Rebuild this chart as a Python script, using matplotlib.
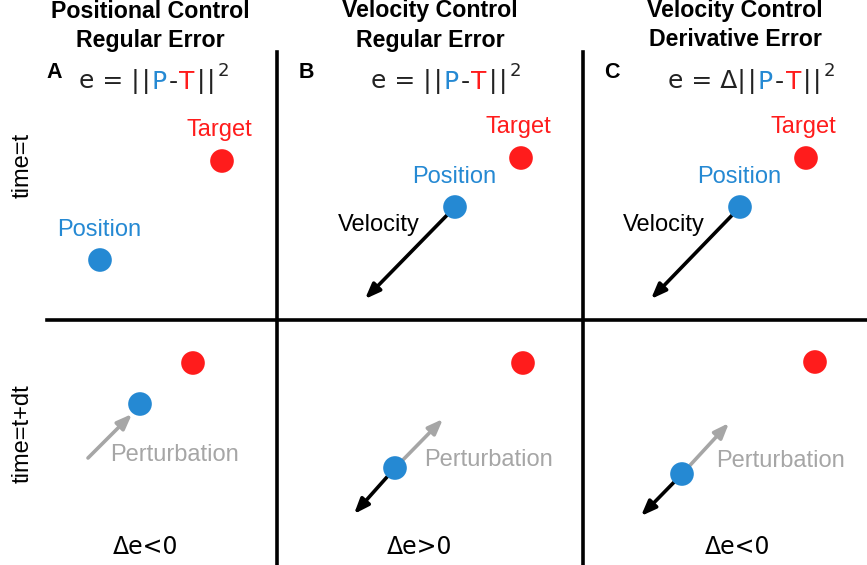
import matplotlib.pyplot as plt

# panel geometry, in pixel coordinates of the 867x565 figure
headers_1 = ["Positional Control", "Velocity Control", "Velocity Control"]
headers_2 = ["Regular Error", "Regular Error", "Derivative Error"]
header_x = [150, 430, 735]
panel_labels = ["A", "B", "C"]
panel_label_x = [54, 306, 612]
eq_x = [79, 371, 668]
eq_prefix = ["", "", "Δ"]
delta_labels = ["Δe<0", "Δe>0", "Δe<0"]
delta_x = [146, 420, 738]

# top row (time=t)
target_top = [(222, 161), (521, 158), (806, 158)]
position_top = [(100, 260), (455, 207), (740, 207)]
velocity_end = [None, (365, 299), (651, 299)]

# bottom row (time=t+dt)
target_bot = [(193, 363), (523, 363), (815, 362)]
position_bot = [(140, 404), (395, 468), (682, 474)]
perturb_start = [(88, 458), (395, 468), (682, 474)]
perturb_end = [(132, 414), (443, 419), (729, 423)]
perturb_text = [(174, 455), (489, 460), (780, 461)]
velocity_bot_end = [None, (354, 514), (641, 516)]

BLUE = "#2589d3"
RED = "#ff1c1c"
GREY = "#a6a6a6"
DARK = "#222222"
FS = 17
plt.rcParams["font.family"] = ["Liberation Sans", "DejaVu Sans"]

fig = plt.figure(figsize=(8.67, 5.65), dpi=100)
ax = fig.add_axes([0, 0, 1, 1])
ax.set_xlim(0, 867)
ax.set_ylim(565, 0)
ax.axis("off")

# grid lines
ax.plot([47, 867], [320, 320], color="black", lw=2.6)
for x in [277, 583]:
    ax.plot([x, x], [52, 565], color="black", lw=2.6)

ax.text(23, 165, "time=t", rotation=90, ha="center", va="center", fontsize=FS)
ax.text(23, 434, "time=t+dt", rotation=90, ha="center", va="center", fontsize=FS)


def arrow(start, end, color):
    ax.annotate("", xy=end, xytext=start,
                arrowprops=dict(arrowstyle="-|>,head_width=0.35,head_length=0.9",
                                lw=2.6, color=color, shrinkA=0, shrinkB=0), zorder=2)


def equation(x, prefix):
    parts = [("|", DARK), ("P", BLUE), ("-", DARK), ("T", RED), ("|", DARK), ("|", DARK)]
    t = ax.text(x, 88, "e = " + prefix + "|", color=DARK, fontsize=18,
                family="DejaVu Sans", va="baseline")
    for s, c in parts:
        t = ax.annotate(s, xy=(1, 0), xycoords=t, xytext=(1.3, 0),
                        textcoords="offset points", va="bottom", color=c,
                        fontsize=18, family="DejaVu Sans")
    ax.annotate("2", xy=(1, 1), xycoords=t, xytext=(2, -8), textcoords="offset points",
                va="bottom", color=DARK, fontsize=13, family="DejaVu Sans")


for i in range(3):
    ax.text(header_x[i], 11, headers_1[i], ha="center", va="center", fontsize=16.7,
            fontweight="bold")
    ax.text(header_x[i], 40, headers_2[i], ha="center", va="center", fontsize=16.7,
            fontweight="bold")
    ax.text(panel_label_x[i], 73, panel_labels[i], ha="center", va="center",
            fontsize=15.5, fontweight="bold")
    equation(eq_x[i], eq_prefix[i])
    ax.text(delta_x[i], 547, delta_labels[i], ha="center", va="center", fontsize=17,
            family="DejaVu Sans")

    # top row
    tx, ty = target_top[i]
    px, py = position_top[i]
    ax.text(tx - 3, ty - 31, "Target", color=RED, ha="center", va="center", fontsize=FS)
    ax.text(px - 1, py - 30, "Position", color=BLUE, ha="center", va="center", fontsize=FS)
    if velocity_end[i] is not None:
        arrow((px, py), velocity_end[i], "black")
        ax.text(px - 76, py + 18, "Velocity", ha="center", va="center", fontsize=FS)
    ax.scatter([tx, px], [ty, py], s=290, color=[RED, BLUE], zorder=3, linewidths=0)

    # bottom row
    arrow(perturb_start[i], perturb_end[i], GREY)
    ax.text(perturb_text[i][0], perturb_text[i][1], "Perturbation", color=GREY,
            ha="center", va="center", fontsize=FS)
    if velocity_bot_end[i] is not None:
        arrow(position_bot[i], velocity_bot_end[i], "black")
    ax.scatter([target_bot[i][0], position_bot[i][0]], [target_bot[i][1], position_bot[i][1]],
               s=290, color=[RED, BLUE], zorder=3, linewidths=0)

fig.savefig("out.png", dpi=100)
